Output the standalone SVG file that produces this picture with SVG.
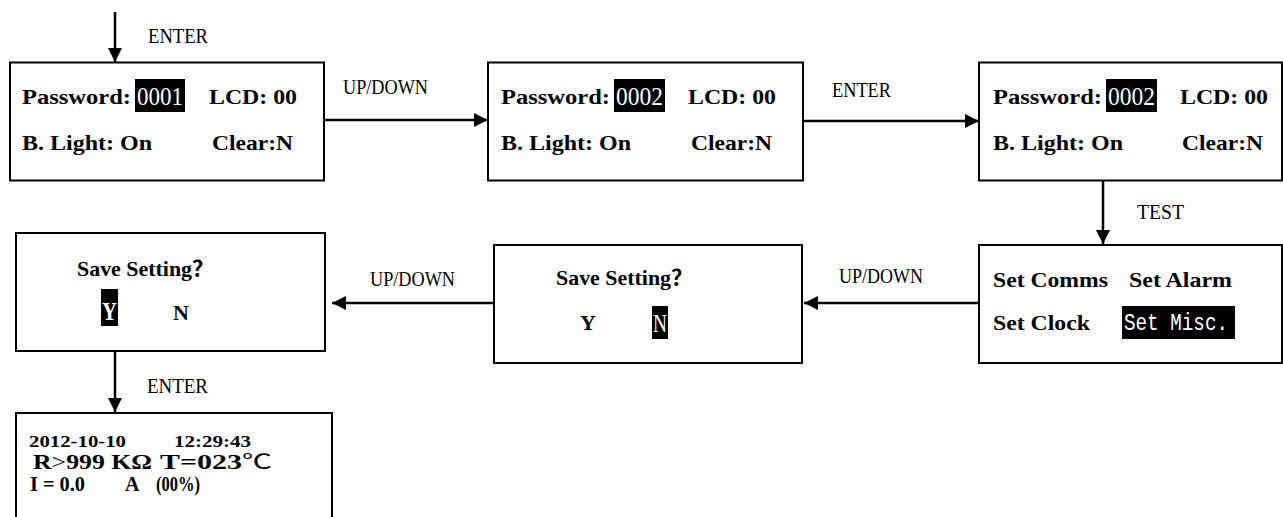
<svg xmlns="http://www.w3.org/2000/svg" width="1283" height="517" viewBox="0 0 1283 517">
<style>
.box{fill:#fff;stroke:#000;stroke-width:2}
.hl{fill:#000}
.t{font-family:"Liberation Serif","Noto Sans CJK SC",serif;font-weight:bold;font-size:22px;fill:#000}
.hw{font-family:"Liberation Serif",serif;font-size:25px;fill:#fff}
.mw{font-family:"Liberation Mono",monospace;font-size:23px;fill:#fff}
.lbl{font-family:"Liberation Serif",serif;font-size:21px;fill:#000}
.sm{font-family:"Liberation Serif",serif;font-weight:bold;font-size:17px;fill:#000}
.md{font-family:"Liberation Serif","Noto Sans CJK SC",serif;font-weight:bold;font-size:20px;fill:#000}
.ln{stroke:#000;stroke-width:2.5;fill:none}
</style>
<defs>
<marker id="ah" markerUnits="userSpaceOnUse" markerWidth="16" markerHeight="14" refX="14" refY="7" orient="auto">
<path d="M0,0 L14,7 L0,14 Z" fill="#000"/>
</marker>
</defs>
<rect width="1283" height="517" fill="#fff"/>

<g id="connectors">
<line class="ln" x1="115" y1="12" x2="115" y2="62" marker-end="url(#ah)"/>
<text class="lbl" x="148" y="43" textLength="60" lengthAdjust="spacingAndGlyphs">ENTER</text>
<line class="ln" x1="325" y1="120" x2="488" y2="120" marker-end="url(#ah)"/>
<text class="lbl" x="343" y="94" textLength="85" lengthAdjust="spacingAndGlyphs">UP/DOWN</text>
<line class="ln" x1="804" y1="121" x2="979" y2="121" marker-end="url(#ah)"/>
<text class="lbl" x="832" y="97" textLength="59" lengthAdjust="spacingAndGlyphs">ENTER</text>
<line class="ln" x1="1103" y1="181" x2="1103" y2="244" marker-end="url(#ah)"/>
<text class="lbl" x="1137" y="219" textLength="47" lengthAdjust="spacingAndGlyphs">TEST</text>
<line class="ln" x1="979" y1="303" x2="804" y2="303" marker-end="url(#ah)"/>
<text class="lbl" x="839" y="283" textLength="84" lengthAdjust="spacingAndGlyphs">UP/DOWN</text>
<line class="ln" x1="494" y1="303" x2="332" y2="303" marker-end="url(#ah)"/>
<text class="lbl" x="370" y="286" textLength="85" lengthAdjust="spacingAndGlyphs">UP/DOWN</text>
<line class="ln" x1="115" y1="352" x2="115" y2="412" marker-end="url(#ah)"/>
<text class="lbl" x="147" y="393" textLength="61" lengthAdjust="spacingAndGlyphs">ENTER</text>
</g>

<g id="node-pw1">
<rect class="box" x="10" y="62.5" width="314" height="118"/>
<text class="t" x="22" y="104" textLength="109" lengthAdjust="spacingAndGlyphs">Password:</text>
<rect class="hl" x="135" y="79" width="50" height="33"/>
<text class="hw" x="137" y="105" textLength="46" lengthAdjust="spacingAndGlyphs">0001</text>
<text class="t" x="209" y="104" textLength="88" lengthAdjust="spacingAndGlyphs">LCD: 00</text>
<text class="t" x="22" y="150" textLength="130" lengthAdjust="spacingAndGlyphs">B. Light: On</text>
<text class="t" x="212" y="150" textLength="81" lengthAdjust="spacingAndGlyphs">Clear:N</text>
</g>

<g id="node-pw2">
<rect class="box" x="488" y="62.5" width="315" height="118"/>
<text class="t" x="501" y="104" textLength="109" lengthAdjust="spacingAndGlyphs">Password:</text>
<rect class="hl" x="614" y="79" width="51" height="33"/>
<text class="hw" x="616" y="105" textLength="47" lengthAdjust="spacingAndGlyphs">0002</text>
<text class="t" x="688" y="104" textLength="88" lengthAdjust="spacingAndGlyphs">LCD: 00</text>
<text class="t" x="501" y="150" textLength="130" lengthAdjust="spacingAndGlyphs">B. Light: On</text>
<text class="t" x="691" y="150" textLength="81" lengthAdjust="spacingAndGlyphs">Clear:N</text>
</g>

<g id="node-pw3">
<rect class="box" x="979" y="62.5" width="303" height="118"/>
<text class="t" x="993" y="104" textLength="109" lengthAdjust="spacingAndGlyphs">Password:</text>
<rect class="hl" x="1106" y="79" width="51" height="33"/>
<text class="hw" x="1108" y="105" textLength="47" lengthAdjust="spacingAndGlyphs">0002</text>
<text class="t" x="1180" y="104" textLength="88" lengthAdjust="spacingAndGlyphs">LCD: 00</text>
<text class="t" x="993" y="150" textLength="130" lengthAdjust="spacingAndGlyphs">B. Light: On</text>
<text class="t" x="1182" y="150" textLength="81" lengthAdjust="spacingAndGlyphs">Clear:N</text>
</g>

<g id="node-menu">
<rect class="box" x="979" y="245" width="303" height="118"/>
<text class="t" x="993" y="287" textLength="115" lengthAdjust="spacingAndGlyphs">Set Comms</text>
<text class="t" x="1129" y="287" textLength="103" lengthAdjust="spacingAndGlyphs">Set Alarm</text>
<text class="t" x="993" y="330" textLength="97" lengthAdjust="spacingAndGlyphs">Set Clock</text>
<rect class="hl" x="1122" y="306" width="113" height="33"/>
<text class="mw" x="1124" y="330" textLength="104" lengthAdjust="spacingAndGlyphs">Set Misc.</text>
</g>

<g id="node-save-n">
<rect class="box" x="494" y="245" width="308" height="118"/>
<text class="t" x="556" y="285" textLength="137" lengthAdjust="spacingAndGlyphs">Save Setting？</text>
<text class="t" x="580" y="330">Y</text>
<rect class="hl" x="652" y="306" width="16" height="33"/>
<text class="hw" x="653" y="332" textLength="14" lengthAdjust="spacingAndGlyphs">N</text>
</g>

<g id="node-save-y">
<rect class="box" x="16" y="233" width="309" height="118"/>
<text class="t" x="77" y="276" textLength="137" lengthAdjust="spacingAndGlyphs">Save Setting？</text>
<rect class="hl" x="101" y="289" width="17" height="37"/>
<text class="hw" x="102" y="320" textLength="15" lengthAdjust="spacingAndGlyphs" font-weight="bold">Y</text>
<text class="t" x="173" y="320">N</text>
</g>

<g id="node-status">
<rect class="box" x="16" y="413" width="316" height="130"/>
<text class="sm" x="29" y="447" textLength="97" lengthAdjust="spacingAndGlyphs">2012-10-10</text>
<text class="sm" x="174" y="447" textLength="77" lengthAdjust="spacingAndGlyphs">12:29:43</text>
<text class="md" x="33" y="469" textLength="119" lengthAdjust="spacingAndGlyphs">R<tspan font-weight="normal">&gt;</tspan>999 KΩ</text>
<text class="md" x="160" y="469" textLength="112" lengthAdjust="spacingAndGlyphs">T=023<tspan font-weight="normal">℃</tspan></text>
<text class="md" x="30" y="491" textLength="55" lengthAdjust="spacingAndGlyphs">I = 0.0</text>
<text class="md" x="125" y="491">A</text>
<text class="md" x="156" y="491" textLength="44" lengthAdjust="spacingAndGlyphs">(00%)</text>
</g>
</svg>
